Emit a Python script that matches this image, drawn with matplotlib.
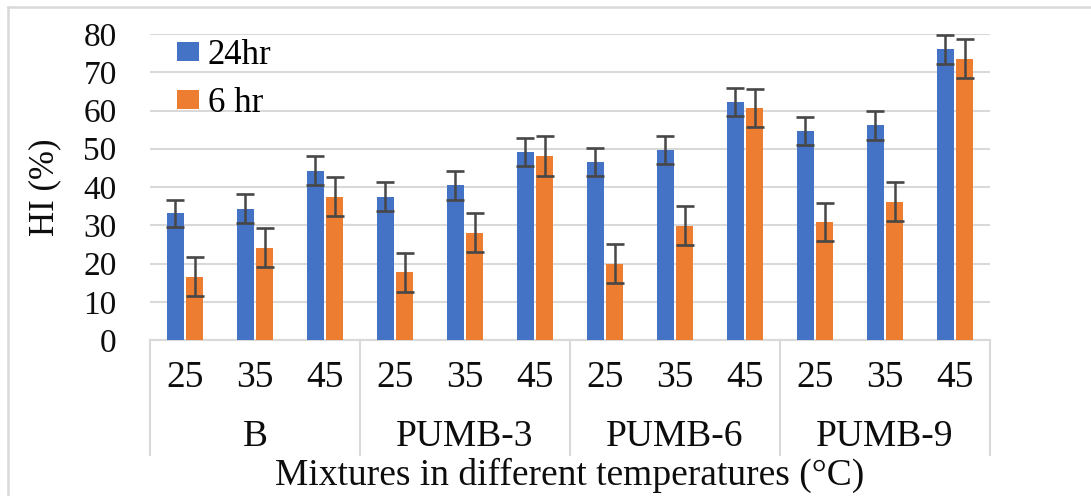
import matplotlib
matplotlib.use("Agg")
import matplotlib.pyplot as plt
import matplotlib.transforms as mtransforms
from matplotlib.patches import Patch
from matplotlib.lines import Line2D
import numpy as np

plt.rcParams['font.family'] = ['Liberation Serif', 'DejaVu Serif']

groups = ["B", "PUMB-3", "PUMB-6", "PUMB-9"]
temps = ["25", "35", "45"]
hi_24hr = [33.1, 34.3, 44.3, 37.5, 40.4, 49.2, 46.6, 49.7, 62.3, 54.6, 56.1, 76.0]
hi_6hr = [16.6, 24.1, 37.5, 17.7, 28.1, 48.2, 20.0, 29.9, 60.6, 30.9, 36.2, 73.5]
err_24hr = [3.5, 3.8, 3.7, 3.7, 3.7, 3.7, 3.7, 3.7, 3.7, 3.6, 3.8, 3.8]
err_6hr = [5.0, 5.1, 5.0, 5.1, 5.2, 5.2, 5.2, 5.1, 5.0, 5.0, 5.1, 5.1]
series_labels = ["24hr", "6 hr"]

BLUE = "#4472C4"
ORANGE = "#ED7D31"
GRID = "#D9D9D9"
ECOL = "#474747"
TXT = "#0D0D0D"

W, H = 1091, 496
fig = plt.figure(figsize=(W / 100, H / 100), dpi=100)
ax = fig.add_axes([150 / W, (H - 340) / H, 840 / W, 306 / H])

x = np.arange(len(hi_24hr))
bw = 0.24
off = 0.14
ekw = dict(ecolor=ECOL, elinewidth=1.8, capsize=6.8, capthick=1.9)
ax.bar(x - off, hi_24hr, bw, color=BLUE, yerr=err_24hr, error_kw=ekw, zorder=3)
ax.bar(x + off, hi_6hr, bw, color=ORANGE, yerr=err_6hr, error_kw=ekw, zorder=3)

ax.set_xlim(-0.5, len(x) - 0.5)
ax.set_ylim(0, 80)
ax.set_yticks(range(0, 81, 10))
ax.yaxis.grid(True, color=GRID, linewidth=1.5, zorder=0)
ax.set_axisbelow(True)
for s in ["top", "right", "left"]:
    ax.spines[s].set_visible(False)
ax.spines["bottom"].set_color(GRID)
ax.spines["bottom"].set_linewidth(1.5)
ax.tick_params(axis="y", length=0, pad=24, labelsize=24, labelcolor=TXT)
ax.set_xticks([])

# multi-level category axis
trans = mtransforms.blended_transform_factory(ax.transData, ax.transAxes)
scale = 306.0
for i in range(len(x)):
    ax.text(i, -(378 - 340) / scale, temps[i % 3], transform=trans, ha="center",
            va="center", fontsize=27, color=TXT, clip_on=False)
for g, name in enumerate(groups):
    ax.text(g * 3 + 1, -(437 - 340) / scale, name, transform=trans, ha="center",
            va="center", fontsize=27, color=TXT, clip_on=False)
for b in range(len(groups) + 1):
    ax.add_line(Line2D([b * 3 - 0.5, b * 3 - 0.5], [0, -(455 - 340) / scale],
                       transform=trans, color=GRID, linewidth=1.5, clip_on=False))

fig.text(570 / W, (H - 475) / H, "Mixtures in different temperatures (°C)",
         ha="center", va="center", fontsize=27, color=TXT)
fig.text(45 / W, (H - 187) / H, "HI (%)", rotation=90, ha="center", va="center",
         fontsize=25, color=TXT)

handles = [Patch(facecolor=BLUE), Patch(facecolor=ORANGE)]
fig.legend(handles, series_labels, loc="upper left",
           bbox_to_anchor=(177 / W, (H - 39) / H), frameon=False, borderpad=0,
           borderaxespad=0, fontsize=25, handlelength=0.63, handleheight=0.49,
           handletextpad=0.25, labelspacing=0.43)

# figure frame lines (top and left)
fig.add_artist(Line2D([8 / W, 1], [(H - 7) / H, (H - 7) / H], transform=fig.transFigure,
                      color=GRID, linewidth=1.8))
fig.add_artist(Line2D([8 / W, 8 / W], [0, (H - 7) / H], transform=fig.transFigure,
                      color=GRID, linewidth=1.8))

fig.savefig("out.png", dpi=100)
